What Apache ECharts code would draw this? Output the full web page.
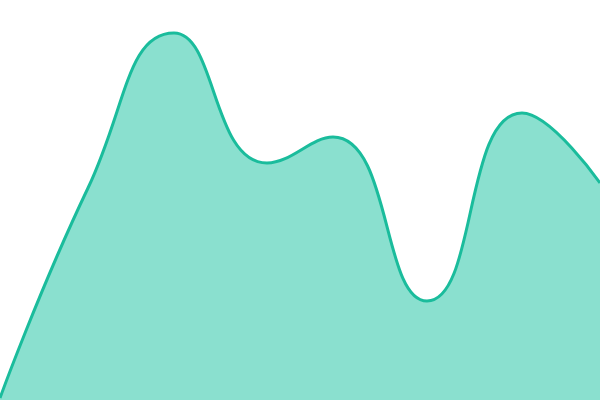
<!DOCTYPE html>
<html>
 <head>
  <title>Area</title>
  <script src="https://cdn.jsdelivr.net/npm/echarts@6/dist/echarts.min.js"></script>
  <style>
    html, body, #container {
    width: 100%;
    height: 100%;
    margin: 0;
    padding: 0;
    }
  </style>
 </head>
<body>
  <div id="container"></div>
  <script>
    // x positions and heights (0..600 by 0..400)
    var xs = [0, 88, 174, 267, 333, 427, 522, 600];
    var values = [2, 212, 367, 237, 263, 99, 287, 217];

    var chart = echarts.init(document.getElementById('container'));

    chart.setOption({
      animation: false,
      grid: { left: 0, right: 0, top: 0, bottom: 0 },
      xAxis: {
        type: 'value',
        min: 0,
        max: 600,
        show: false
      },
      yAxis: {
        type: 'value',
        min: 0,
        max: 400,
        show: false
      },
      series: [
        {
          type: 'line',
          data: xs.map(function (x, i) { return [x, values[i]]; }),
          smooth: true,
          symbol: 'none',
          lineStyle: { color: '#1abc9c', width: 3 },
          areaStyle: { color: '#8ae0cf', opacity: 1 }
        }
      ]
    });
  </script>
</body>
</html>
